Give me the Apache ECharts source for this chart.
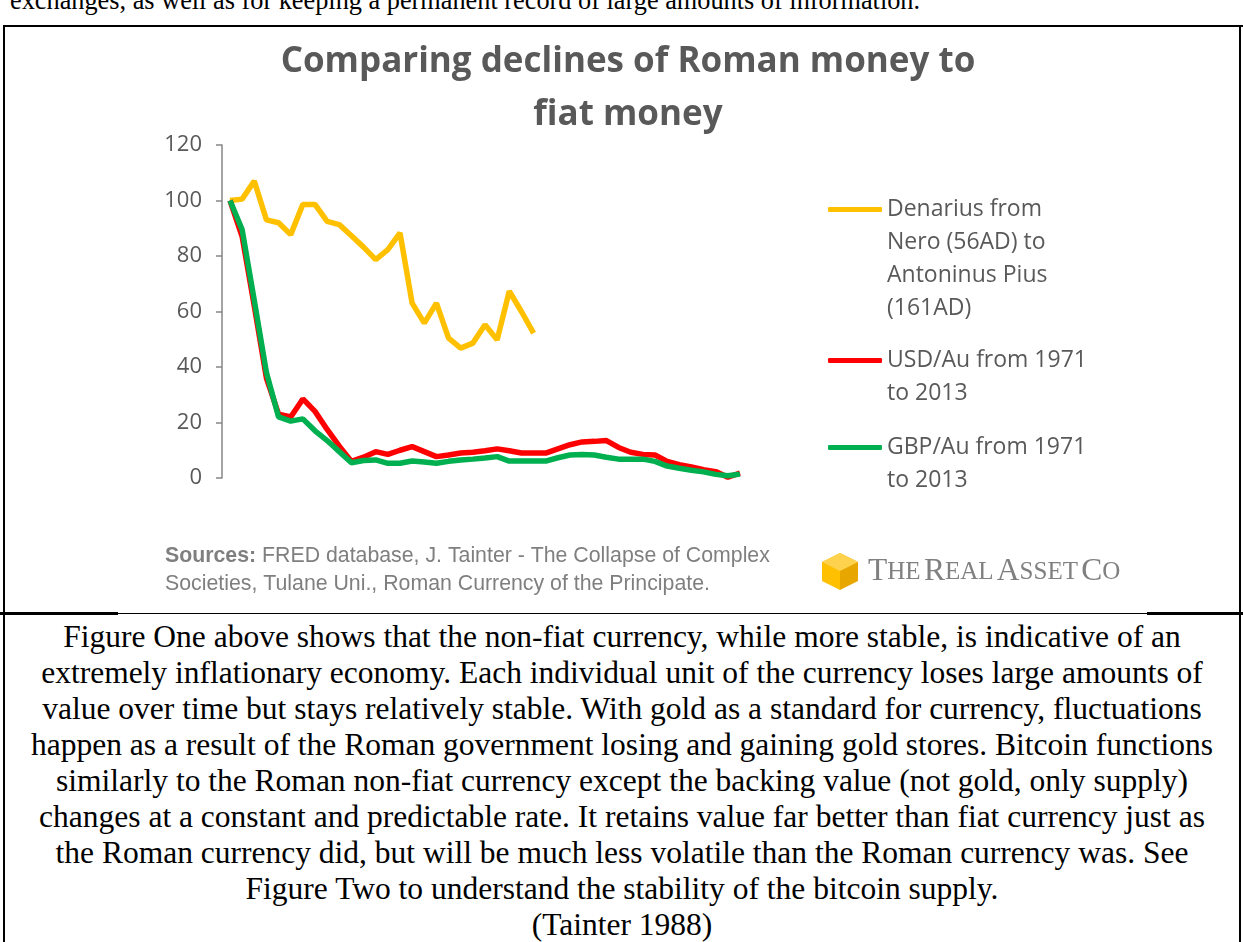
<!DOCTYPE html>
<html>
<head>
<meta charset="utf-8">
<script src="https://cdn.jsdelivr.net/npm/echarts@6/dist/echarts.min.js"></script>
<style>
  html, body { margin: 0; padding: 0; background: #fff; }
  body { width: 1243px; height: 942px; position: relative; overflow: hidden; font-family: "Liberation Serif", serif; color: #000; }
  .rule { position: absolute; background: #000; }
  .para { position: absolute; left: 3px; width: 1238px; text-align: center; font-size: 31.5px; line-height: 36px; white-space: nowrap; }
  .prev { position: absolute; left: 10px; top: -13px; font-size: 26.3px; line-height: 28px; white-space: nowrap; }
  #chart { position: absolute; left: 13px; top: 0; width: 1230px; height: 612px; }
</style>
</head>
<body>
<div class="prev">exchanges, as well as for keeping a permanent record of large amounts of information.</div>
<div class="rule" style="left:3px;top:25px;width:1240px;height:2px"></div>
<div class="rule" style="left:3px;top:25px;width:2px;height:917px"></div>
<div class="rule" style="left:1239px;top:25px;width:2px;height:917px"></div>
<div class="rule" style="left:0;top:613px;width:1243px;height:1px"></div>
<div class="rule" style="left:0;top:612px;width:118px;height:3px"></div>
<div class="rule" style="left:1147px;top:612px;width:96px;height:3px"></div>
<div class="para" style="top:619px">
  <div>Figure One above shows that the non-fiat currency, while more stable, is indicative of an</div>
  <div>extremely inflationary economy. Each individual unit of the currency loses large amounts of</div>
  <div>value over time but stays relatively stable. With gold as a standard for currency, fluctuations</div>
  <div>happen as a result of the Roman government losing and gaining gold stores. Bitcoin functions</div>
  <div>similarly to the Roman non-fiat currency except the backing value (not gold, only supply)</div>
  <div>changes at a constant and predictable rate. It retains value far better than fiat currency just as</div>
  <div>the Roman currency did, but will be much less volatile than the Roman currency was. See</div>
  <div>Figure Two to understand the stability of the bitcoin supply.</div>
  <div>(Tainter 1988)</div>
</div>
<div id="chart"></div>
<script>
// periods on the x axis (fiat series run 1971 to 2013, one point per year)
var years = ['1971','1972','1973','1974','1975','1976','1977','1978','1979','1980',
  '1981','1982','1983','1984','1985','1986','1987','1988','1989','1990',
  '1991','1992','1993','1994','1995','1996','1997','1998','1999','2000',
  '2001','2002','2003','2004','2005','2006','2007','2008','2009','2010',
  '2011','2012','2013'];

// Denarius, Nero (56AD) to Antoninus Pius (161AD)
var denarius = [100, 100.5, 107, 93, 92, 87.7, 98.6, 98.6, 92.5, 91.3,
  87.3, 83.2, 78.7, 82.3, 88.3, 63, 55.8, 63, 50.4, 46.8,
  48.6, 55.2, 49.8, 67.3, 60, 52.2];

var usdAu = [100, 87, 62, 36, 23, 22, 28.5, 24, 17.5, 11.5,
  6, 7.5, 9.5, 8.5, 10, 11.3, 9.5, 7.7, 8.3, 9,
  9.3, 9.8, 10.5, 9.8, 9, 9, 9, 10.5, 12, 13,
  13.2, 13.5, 11, 9.3, 8.5, 8.3, 6, 4.8, 4, 3,
  2.3, 0.3, 1.8];

var gbpAu = [100, 89.5, 64, 38, 22, 20.5, 21.3, 17, 13.5, 9.5,
  5.5, 6.3, 6.5, 5.3, 5.3, 6.1, 5.8, 5.3, 6, 6.5,
  6.8, 7.2, 7.7, 6.1, 6.1, 6.1, 6.1, 7.3, 8.3, 8.5,
  8.3, 7.5, 6.8, 6.8, 6.8, 6, 4.3, 3.5, 2.8, 2.2,
  1.3, 0.8, 1.4];

var names = ['Denarius from\nNero (56AD) to\nAntoninus Pius\n(161AD)', 'USD/Au from 1971\nto 2013', 'GBP/Au from 1971\nto 2013'];
var colors = ['#FFC000', '#FF0000', '#00B050'];

var chart = echarts.init(document.getElementById('chart'));

var labelFont = '"Open Sans", sans-serif';

// the legend text is centred on its icon, so blank lines are put above
// the name to keep the icon level with the first line
function legendAt(name, top) {
  var lines = name.split('\n').length;
  var pad = new Array(lines).join('\n');
  return {
    data: [name],
    orient: 'vertical',
    left: 815,
    top: top,
    padding: 0,
    icon: 'roundRect',
    itemWidth: 54,
    itemHeight: 5,
    selectedMode: false,
    formatter: function (n) { return pad + n; },
    textStyle: {
      color: '#595959',
      fontFamily: labelFont,
      fontSize: 23,
      lineHeight: 33
    }
  };
}

var option = {
  animation: false,
  color: colors,
  title: {
    text: 'Comparing declines of Roman money to\nfiat money',
    left: 'center',
    top: 36,
    padding: 0,
    textStyle: {
      color: '#595959',
      fontFamily: labelFont,
      fontWeight: 'bold',
      fontSize: 35,
      lineHeight: 53
    }
  },
  legend: [
    legendAt(names[0], 94),
    legendAt(names[1], 311),
    legendAt(names[2], 398)
  ],
  grid: { left: 217, right: 503, top: 145, bottom: 134 },
  xAxis: {
    type: 'category',
    data: years,
    boundaryGap: false,
    axisLine: { show: false },
    axisTick: { show: false },
    axisLabel: { show: false },
    splitLine: { show: false }
  },
  yAxis: {
    type: 'value',
    min: 0,
    max: 120,
    interval: 20,
    offset: 8,
    axisLine: { show: true, lineStyle: { color: '#868686', width: 1.5 } },
    axisTick: { show: true, length: 6, lineStyle: { color: '#868686', width: 1.5 } },
    axisLabel: { color: '#595959', fontFamily: labelFont, fontSize: 22, margin: 20 },
    splitLine: { show: false }
  },
  series: [
    { name: names[0], type: 'line', data: denarius, symbol: 'none', lineStyle: { width: 5.5, color: colors[0] } },
    { name: names[1], type: 'line', data: usdAu, symbol: 'none', lineStyle: { width: 5.5, color: colors[1] } },
    { name: names[2], type: 'line', data: gbpAu, symbol: 'none', lineStyle: { width: 5.5, color: colors[2] } }
  ],
  graphic: [
    {
      type: 'text', left: 152, top: 542,
      style: {
        text: '{b|Sources:} FRED database, J. Tainter - The Collapse of Complex\nSocieties, Tulane Uni., Roman Currency of the Principate.',
        fill: '#7f7f7f',
        font: '21.3px "Liberation Sans", Arial, sans-serif',
        lineHeight: 28,
        rich: { b: { fontWeight: 'bold', fontSize: 21.3, fontFamily: '"Liberation Sans", Arial, sans-serif', fill: '#7f7f7f' } }
      }
    },
    // logo cube
    { type: 'polygon', shape: { points: [[827,553],[809,562],[809,581],[827,590],[827,571]] }, style: { fill: '#FFC000' } },
    { type: 'polygon', shape: { points: [[827,553],[845,562],[845,581],[827,590],[827,571]] }, style: { fill: '#E8A600' } },
    { type: 'polygon', shape: { points: [[827,553],[845,562],[827,571],[809,562]] }, style: { fill: '#FFD24D' } },
    {
      type: 'text', left: 855, top: 556,
      style: {
        text: '{b|T}{s|HE} {b|R}{s|EAL} {b|A}{s|SSET} {b|C}{s|O}',
        fill: '#808080',
        rich: {
          b: { fontSize: 31.5, fontFamily: '"Liberation Serif", serif', fill: '#808080' },
          s: { fontSize: 25, fontFamily: '"Liberation Serif", serif', fill: '#808080' }
        }
      }
    }
  ]
};

chart.setOption(option);
</script>
</body>
</html>
